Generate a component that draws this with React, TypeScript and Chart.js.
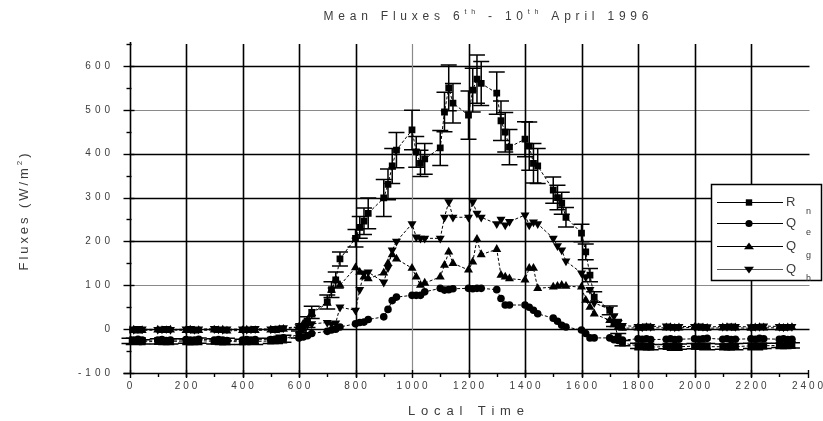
import React, { useEffect, useRef } from 'react';
import { Chart, registerables } from 'chart.js';

Chart.register(...registerables);

// ---------- data ----------
const times = [
  0, 15, 30, 45, 100, 115, 130, 145, 200, 215, 230, 245, 300, 315, 330, 345, 400, 415, 430, 445, 500, 515, 530, 545,
  600, 615, 630, 645, 700, 715, 730, 745, 800, 815, 830, 845, 900, 915, 930, 945, 1000, 1015, 1030, 1045, 1100, 1115, 1130, 1145,
  1200, 1215, 1230, 1245, 1300, 1315, 1330, 1345, 1400, 1415, 1430, 1445, 1500, 1515, 1530, 1545, 1600, 1615, 1630, 1645, 1700, 1715, 1730, 1745,
  1800, 1815, 1830, 1845, 1900, 1915, 1930, 1945, 2000, 2015, 2030, 2045, 2100, 2115, 2130, 2145, 2200, 2215, 2230, 2245, 2300, 2315, 2330, 2345,
];

const rn = [
  -27, -28, -26, -29, -28, -27, -29, -28, -27, -29, -28, -26, -28, -27, -29, -28, -29, -28, -27, -28, -27, -26, -25, -22,
  -12, 2, 16, 38, 62, 90, 112, 160, 207, 232, 246, 264, 299, 330, 372, 408, 454, 404, 378, 388, 413, 495, 550, 515,
  488, 545, 570, 560, 538, 475, 449, 415, 433, 417, 378, 372, 317, 300, 287, 255, 219, 176, 123, 73, 43, 14, -18, -32,
  -38, -40, -39, -41, -40, -39, -41, -40, -39, -40, -38, -40, -40, -41, -39, -40, -38, -40, -39, -38, -37, -38, -36, -37,
];

const rnErr = [
  6, 7, 6, 5, 6, 7, 6, 6, 5, 6, 7, 6, 6, 5, 6, 7, 6, 6, 5, 7, 6, 7, 6, 8,
  8, 10, 12, 14, 16, 18, 18, 16, 20, 25, 30, 35, 42, 35, 40, 40, 45, 35, 30, 35, 40, 45, 52, 45,
  55, 50, 55, 50, 48, 45, 45, 40, 40, 55, 45, 40, 30, 28, 25, 22, 20, 18, 15, 12, 10, 8, 8, 6,
  6, 7, 6, 6, 5, 6, 7, 6, 6, 5, 6, 7, 6, 6, 5, 7, 6, 7, 6, 6, 5, 6, 7, 6,
];

const qe = [
  -24, -25, -23, -25, -25, -24, -26, -25, -24, -25, -25, -23, -25, -24, -25, -26, -25, -24, -25, -24, -24, -23, -22, -20,
  -20, -18, -15, -10, -5, -2, 0, 5, 12, 15, 16, 22, 28, 45, 65, 73, 77, 77, 77, 85, 93, 89, 90, 92,
  93, 92, 93, 93, 90, 70, 55, 55, 55, 50, 43, 35, 25, 18, 9, 5, -2, -10, -20, -20, -20, -24, -26, -25,
  -22, -23, -22, -24, -23, -22, -24, -23, -22, -23, -22, -21, -23, -22, -24, -23, -22, -23, -21, -22, -23, -22, -24, -23,
];

const qg = [
  -3, -2, -4, -3, -2, -3, -3, -2, -3, -2, -4, -3, -2, -3, -2, -4, -3, -2, -3, -3, -2, -3, -1, 0,
  5, 12, 20, 36, 59, 89, 112, 100, 140, 130, 119, 115, 128, 150, 170, 160, 139, 119, 100, 105, 119, 146, 176, 150,
  135, 153, 205, 170, 182, 123, 119, 115, 112, 139, 139, 93, 96, 98, 100, 98, 96, 66, 50, 35, 20, 10, 5, 2,
  3, 2, 4, 3, 3, 4, 2, 3, 4, 3, 3, 2, 3, 4, 3, 3, 2, 3, 4, 3, 3, 2, 3, 4,
];

const qh = [
  0, -1, 1, 0, -1, 0, 1, -1, 0, 1, -1, 0, 1, 0, -1, 0, 0, -1, 0, 1, 0, 1, 2, 3,
  5, 8, 10, 12, 15, 12, 14, 50, 43, 90, 128, 130, 107, 140, 180, 200, 240, 210, 207, 207, 207, 255, 290, 255,
  255, 290, 264, 255, 240, 250, 237, 245, 260, 237, 244, 240, 207, 190, 180, 155, 128, 119, 90, 60, 45, 30, 15, 8,
  6, 5, 7, 6, 7, 6, 5, 6, 6, 7, 6, 5, 6, 6, 7, 6, 5, 6, 6, 7, 6, 5, 6, 6,
];

const xTicks = [0, 200, 400, 600, 800, 1000, 1200, 1400, 1600, 1800, 2000, 2200, 2400];
const xMinor = [100, 300, 500, 700, 900, 1100, 1300, 1500, 1700, 1900, 2100, 2300];
const yTicks = [-100, 0, 100, 200, 300, 400, 500, 600];
const yMinor = [-50, 50, 150, 250, 350, 450, 550, 650];
const grayX = [1000];
const grayY = [100, 500];

const legendMain = ['R', 'Q', 'Q', 'Q'];
const legendSub = ['n', 'e', 'g', 'h'];
const legendMarks = ['rect', 'circle', 'tri', 'triDown'];

const FONT = '"Liberation Sans", Arial, sans-serif';
const TEXT = '#3c3c3c';

type Seg = { t: string; size: number; dy: number };

function drawSegs(
  ctx: CanvasRenderingContext2D,
  segs: Seg[],
  x: number,
  y: number,
  align: 'left' | 'center' | 'right',
  spacing: number | null,
  target: number | null
) {
  const chars: { ch: string; w: number; size: number; dy: number }[] = [];
  for (const s of segs) {
    ctx.font = `${s.size}px ${FONT}`;
    for (const ch of s.t) chars.push({ ch, w: ctx.measureText(ch).width, size: s.size, dy: s.dy });
  }
  const sumW = chars.reduce((a, c) => a + c.w, 0);
  const sp = target != null ? (target - sumW) / Math.max(1, chars.length - 1) : spacing || 0;
  const total = sumW + sp * (chars.length - 1);
  let cx = align === 'center' ? x - total / 2 : align === 'right' ? x - total : x;
  ctx.textAlign = 'left';
  ctx.textBaseline = 'middle';
  ctx.fillStyle = TEXT;
  for (const c of chars) {
    ctx.font = `${c.size}px ${FONT}`;
    ctx.fillText(c.ch, cx, y + c.dy);
    cx += c.w + sp;
  }
}

function drawMarker(ctx: CanvasRenderingContext2D, kind: string, x: number, y: number) {
  ctx.fillStyle = '#000';
  ctx.beginPath();
  if (kind === 'rect') {
    ctx.rect(x - 3.2, y - 3.2, 6.4, 6.4);
  } else if (kind === 'circle') {
    ctx.arc(x, y, 3.6, 0, Math.PI * 2);
  } else if (kind === 'tri') {
    ctx.moveTo(x, y - 4);
    ctx.lineTo(x + 5, y + 2.8);
    ctx.lineTo(x - 5, y + 2.8);
    ctx.closePath();
  } else {
    ctx.moveTo(x, y + 4);
    ctx.lineTo(x + 5, y - 2.8);
    ctx.lineTo(x - 5, y - 2.8);
    ctx.closePath();
  }
  ctx.fill();
}

const customPlugin = {
  id: 'customDraw',
  beforeDatasetsDraw(chart: any) {
    const { ctx, scales } = chart;
    const xs = scales.x;
    const ys = scales.y;
    const x0 = xs.getPixelForValue(0);
    const x1 = xs.getPixelForValue(2400);
    const yb = ys.getPixelForValue(-100);
    const yt = ys.getPixelForValue(650);
    ctx.save();
    for (const v of yTicks) {
      if (v === -100) continue;
      const py = Math.round(ys.getPixelForValue(v)) + 0.5;
      const gray = grayY.includes(v);
      ctx.strokeStyle = gray ? '#8a8a8a' : '#000';
      ctx.lineWidth = gray ? 1.2 : 1.6;
      ctx.beginPath();
      ctx.moveTo(x0, py);
      ctx.lineTo(x1 + 2, py);
      ctx.stroke();
    }
    for (const v of xTicks) {
      if (v === 0 || v === 2400) continue;
      const px = Math.round(xs.getPixelForValue(v)) + 0.5;
      const gray = grayX.includes(v);
      ctx.strokeStyle = gray ? '#8a8a8a' : '#000';
      ctx.lineWidth = gray ? 1.2 : 1.6;
      ctx.beginPath();
      ctx.moveTo(px, yt);
      ctx.lineTo(px, yb + 4);
      ctx.stroke();
    }
    ctx.strokeStyle = '#000';
    ctx.lineWidth = 1.6;
    ctx.beginPath();
    ctx.moveTo(Math.round(x0) + 0.5, yt - 2);
    ctx.lineTo(Math.round(x0) + 0.5, yb);
    ctx.moveTo(x0 - 6, Math.round(yb) + 0.5);
    ctx.lineTo(x1 + 1, Math.round(yb) + 0.5);
    ctx.stroke();
    ctx.lineWidth = 1.4;
    for (const v of yTicks) {
      const py = Math.round(ys.getPixelForValue(v)) + 0.5;
      ctx.beginPath();
      ctx.moveTo(x0 - 6, py);
      ctx.lineTo(x0 + 5, py);
      ctx.stroke();
    }
    for (const v of yMinor) {
      const py = Math.round(ys.getPixelForValue(v)) + 0.5;
      ctx.beginPath();
      ctx.moveTo(x0 - 3, py);
      ctx.lineTo(x0 + 2, py);
      ctx.stroke();
    }
    for (const v of xTicks) {
      const px = Math.round(xs.getPixelForValue(v)) + 0.5;
      ctx.beginPath();
      ctx.moveTo(px, yb - 3);
      ctx.lineTo(px, yb + 5);
      ctx.stroke();
    }
    for (const v of xMinor) {
      const px = Math.round(xs.getPixelForValue(v)) + 0.5;
      ctx.beginPath();
      ctx.moveTo(px, yb);
      ctx.lineTo(px, yb + 4);
      ctx.stroke();
    }
    ctx.restore();
  },
  afterDatasetsDraw(chart: any) {
    const { ctx, scales } = chart;
    const xs = scales.x;
    const ys = scales.y;
    ctx.save();
    ctx.strokeStyle = '#000';
    ctx.lineWidth = 1.5;
    for (let i = 0; i < times.length; i++) {
      const px = xs.getPixelForValue(times[i]);
      const pTop = ys.getPixelForValue(rn[i] + rnErr[i]);
      const pBot = ys.getPixelForValue(rn[i] - rnErr[i]);
      ctx.beginPath();
      ctx.moveTo(px, pTop);
      ctx.lineTo(px, pBot);
      ctx.moveTo(px - 8, pTop);
      ctx.lineTo(px + 8, pTop);
      ctx.moveTo(px - 8, pBot);
      ctx.lineTo(px + 8, pBot);
      ctx.stroke();
    }
    const bx = 711, by = 184, bw = 111, bh = 97;
    ctx.fillStyle = '#fff';
    ctx.fillRect(bx, by, bw, bh);
    ctx.strokeStyle = '#000';
    ctx.lineWidth = 1.5;
    ctx.strokeRect(bx + 0.5, by + 0.5, bw - 1, bh - 1);
    const rows = [202, 223, 246, 269];
    for (let i = 0; i < 4; i++) {
      const yy = rows[i] + 0.5;
      ctx.strokeStyle = i === 3 ? '#555' : '#000';
      ctx.lineWidth = 1.2;
      ctx.beginPath();
      ctx.moveTo(717, yy);
      ctx.lineTo(783, yy);
      ctx.stroke();
      drawMarker(ctx, legendMarks[i], 749, yy);
      drawSegs(ctx, [{ t: legendMain[i], size: 13, dy: 0 }], 786, rows[i], 'left', 0, null);
      drawSegs(ctx, [{ t: legendSub[i], size: 9, dy: 0 }], 806, rows[i] + 10, 'left', 0, null);
    }
    ctx.restore();
  },
  afterDraw(chart: any) {
    const { ctx, scales } = chart;
    const xs = scales.x;
    const ys = scales.y;
    ctx.save();
    for (const v of yTicks) {
      drawSegs(ctx, [{ t: String(v), size: 10, dy: 0 }], 110, ys.getPixelForValue(v), 'right', 4, null);
    }
    for (const v of xTicks) {
      drawSegs(ctx, [{ t: String(v), size: 10, dy: 0 }], xs.getPixelForValue(v), 386, 'center', 3, null);
    }
    drawSegs(
      ctx,
      [
        { t: 'Mean Fluxes 6', size: 12, dy: 0 },
        { t: 'th', size: 7, dy: -5 },
        { t: ' - 10', size: 12, dy: 0 },
        { t: 'th', size: 7, dy: -5 },
        { t: ' April 1996', size: 12, dy: 0 },
      ],
      486,
      17,
      'center',
      null,
      325
    );
    drawSegs(ctx, [{ t: 'Local Time', size: 13, dy: 0 }], 466, 411, 'center', null, 116);
    ctx.translate(24, 212);
    ctx.rotate(-Math.PI / 2);
    drawSegs(
      ctx,
      [
        { t: 'Fluxes (W/m', size: 13, dy: 0 },
        { t: '2', size: 8, dy: -4 },
        { t: ')', size: 13, dy: 0 },
      ],
      0,
      0,
      'center',
      null,
      117
    );
    ctx.restore();
  },
};

function App() {
  const canvasRef = useRef<HTMLCanvasElement | null>(null);

  useEffect(() => {
    if (!canvasRef.current) return;
    const mk = (vals: number[]) => times.map((t, i) => ({ x: t, y: vals[i] }));
    const base = {
      showLine: true,
      borderColor: '#000',
      borderWidth: 1,
      borderDash: [3, 2],
      pointBackgroundColor: '#000',
      pointBorderColor: '#000',
      pointBorderWidth: 0,
      pointHoverRadius: 0,
    };
    const chart = new Chart(canvasRef.current, {
      type: 'scatter',
      data: {
        datasets: [
          { ...base, label: 'Rn', data: mk(rn), pointStyle: 'rect', pointRadius: 4.8 },
          { ...base, label: 'Qe', data: mk(qe), pointStyle: 'circle', pointRadius: 3.8 },
          { ...base, label: 'Qg', data: mk(qg), pointStyle: 'triangle', pointRadius: 5.2 },
          { ...base, label: 'Qh', data: mk(qh), pointStyle: 'triangle', pointRotation: 180, pointRadius: 5.2 },
        ],
      } as any,
      options: {
        animation: false,
        responsive: false,
        devicePixelRatio: 1,
        layout: { padding: { left: 129.5, right: 15.5, top: 44, bottom: 48 } },
        plugins: { legend: { display: false }, tooltip: { enabled: false }, title: { display: false } },
        scales: {
          x: { type: 'linear', min: 0, max: 2400, display: false },
          y: { type: 'linear', min: -100, max: 650, display: false },
        },
      } as any,
      plugins: [customPlugin],
    });
    return () => chart.destroy();
  }, []);

  return (
    <div style={{ position: 'fixed', left: 0, top: 0, width: 823, height: 421, background: '#fff' }}>
      <canvas ref={canvasRef} width={823} height={421} style={{ display: 'block', width: 823, height: 421 }} />
    </div>
  );
}

export default App;
